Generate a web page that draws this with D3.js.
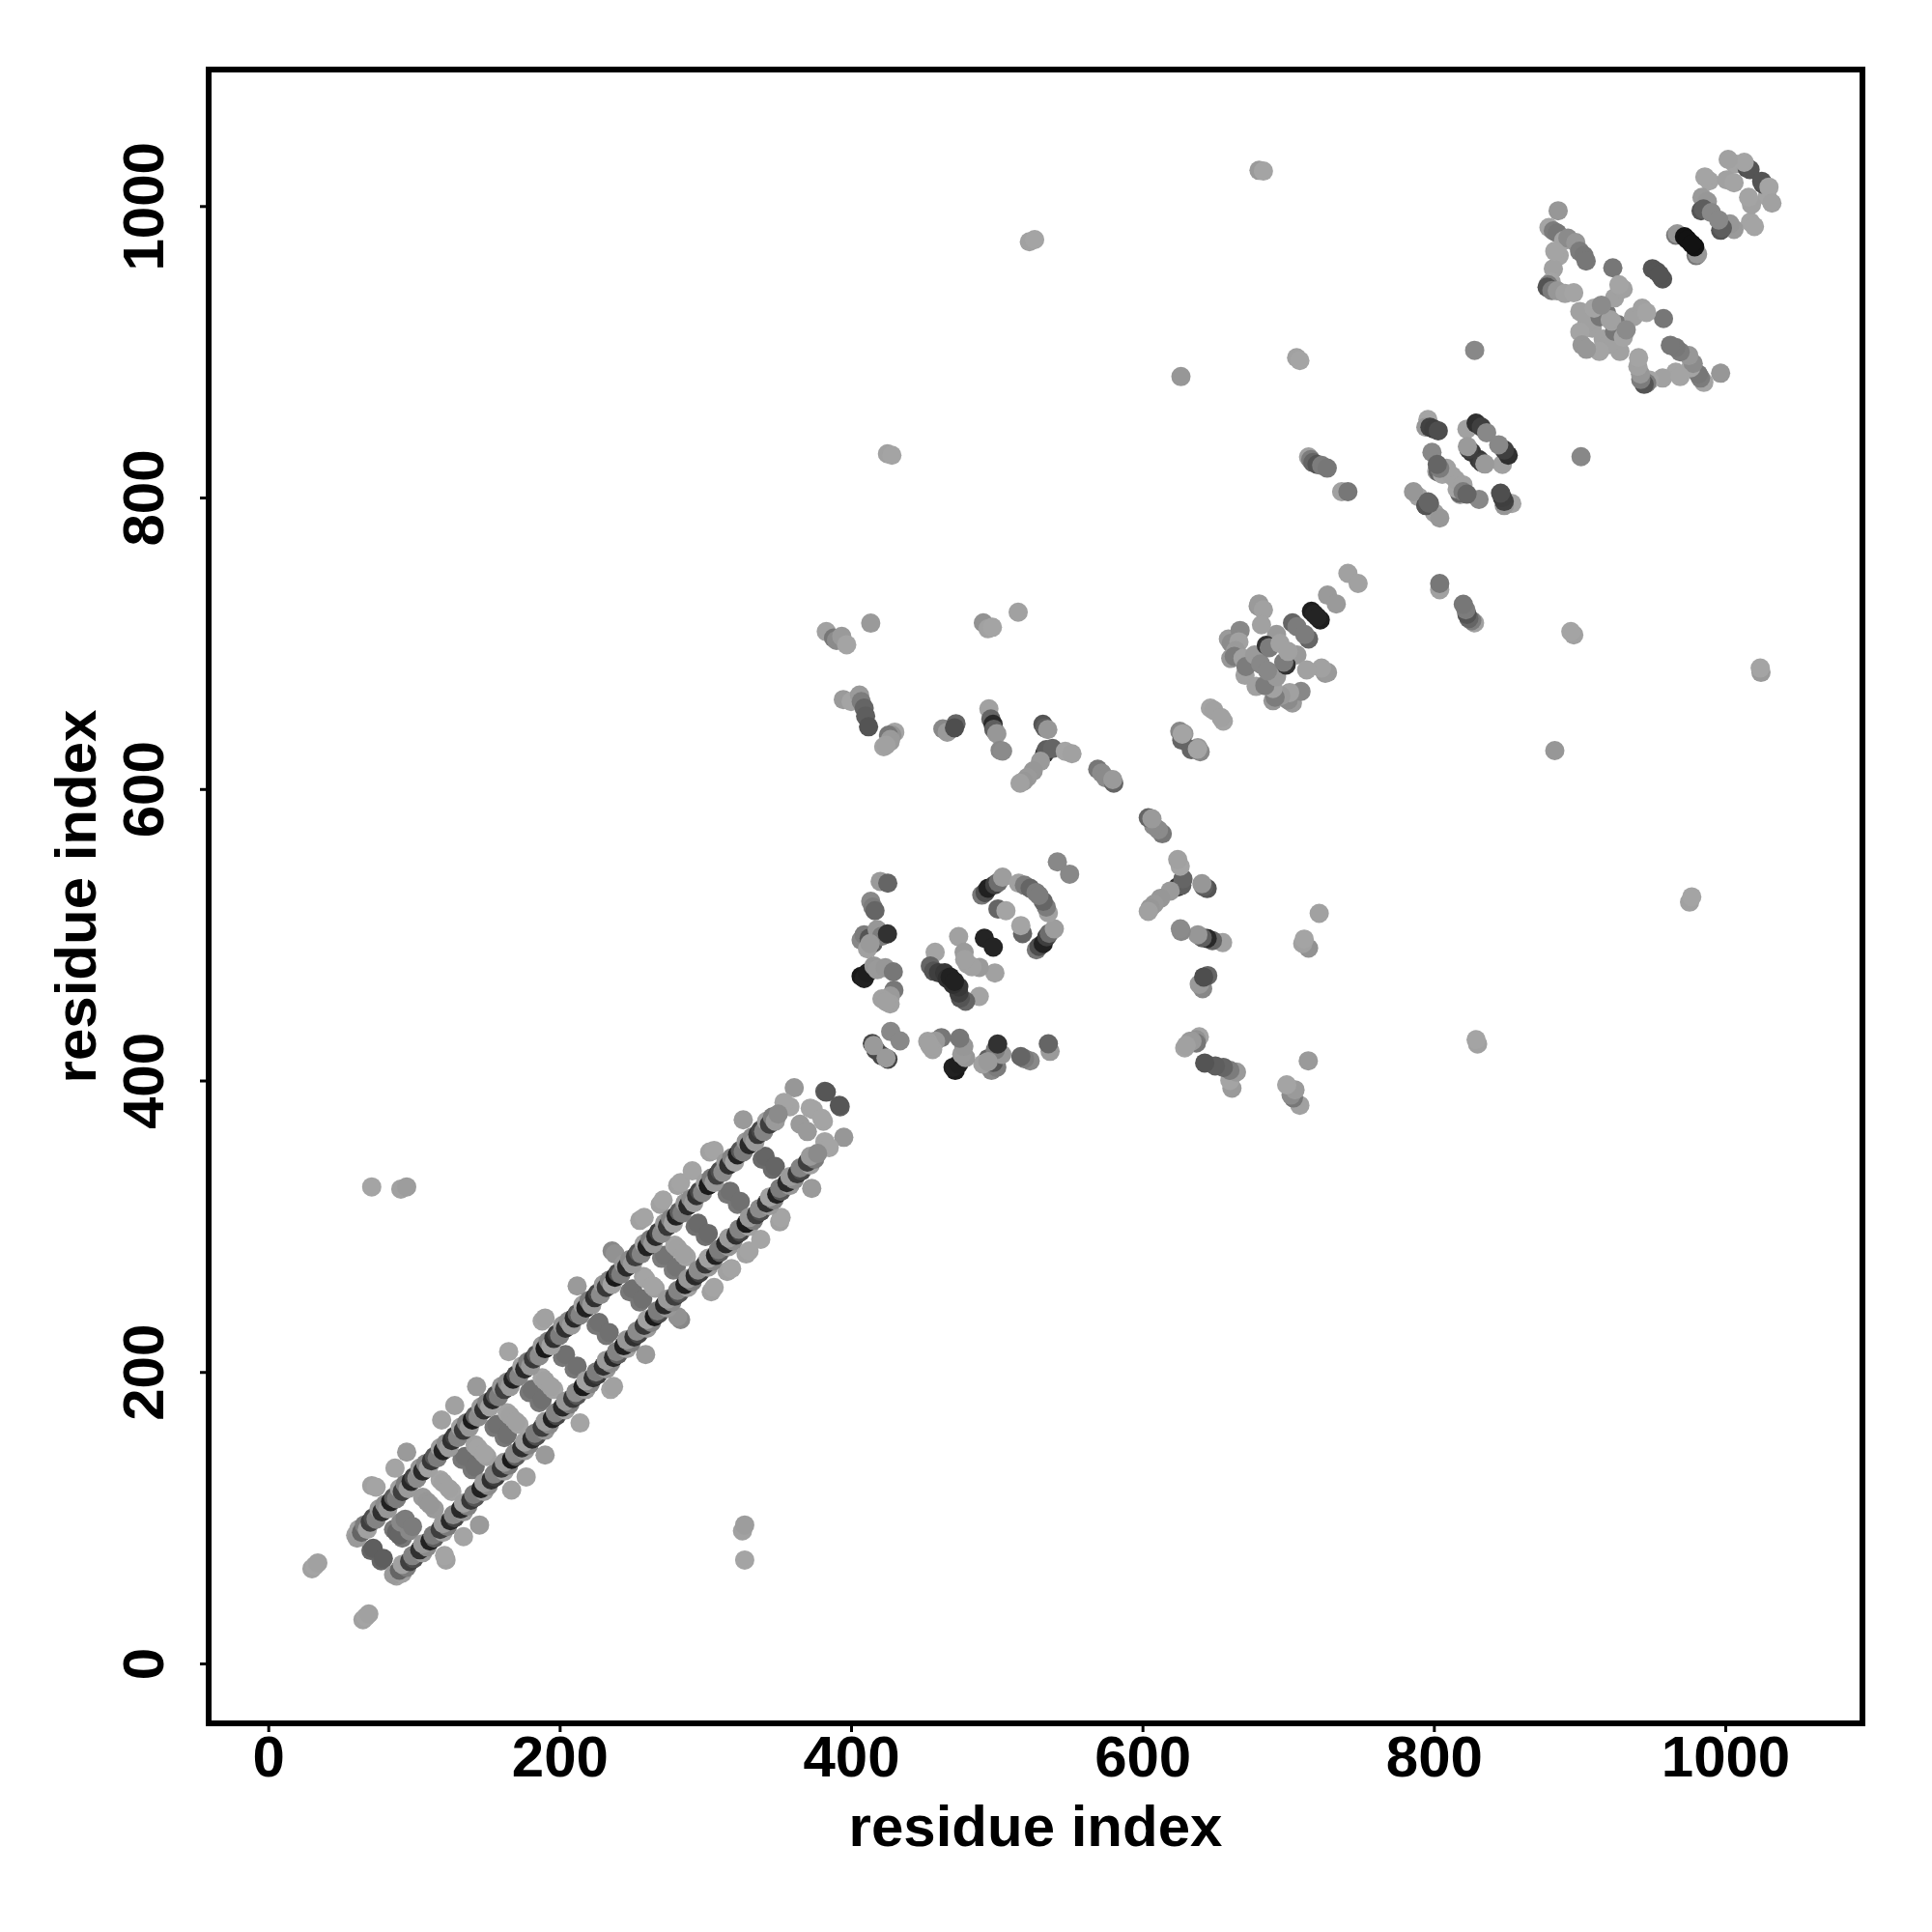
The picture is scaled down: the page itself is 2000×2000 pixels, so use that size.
<!DOCTYPE html>
<html><head><meta charset="utf-8">
<script src="https://cdn.jsdelivr.net/npm/d3@7/dist/d3.min.js"></script>
<style>html,body{margin:0;padding:0;background:#fff}svg{display:block}text{font-family:"Liberation Sans",Arial,sans-serif;font-weight:700;fill:#000}</style>
</head><body><svg id="c" width="2000" height="2000"></svg>
<script>
// Residue contact map: each contact [a, b, strength] is symmetric and shows at (a,b) and (b,a).
const tickValues = [0,200,400,600,800,1000];
const axisTitle = "residue index";

const strandA = [60,61,62,64,66,68,70,72,74,76,78,80,82,84,86,88,90,92,94,96,98,100,102,104,106,108,110,112,114,116,118,120,122,124,126,128,130,132,134,136,138,140,142,144,146,148,150,152,154,156,158,160,162,164,166,168,170,172,174,176,178,180,182,184,186,188,190,192,194,196,198,200,202,204,206,208,210,212,214,216,218,220,222,224,226,228,230,232,234,236,238,240,242,244,246,248,250,252,254,256,258,260,262,264,266,268,270,272,274,276,278,280,282,284,286,288,290,292,294,296,298,300,302,304,306,308,310,312,314,316,318,320,322,324,326,328,330,332,334,336,338,340,342,344,346,348,350];
const strandB = [88,86,92,90,95,92,97,100,99,106,104,109,106,111,114,113,120,118,123,120,125,128,127,134,132,137,134,139,142,141,148,146,151,148,153,156,155,162,160,165,162,167,170,169,176,174,179,176,181,184,183,190,188,193,190,195,198,197,204,202,207,204,209,212,211,218,216,221,218,223,226,225,232,230,235,232,237,240,239,246,244,249,246,251,254,253,260,258,263,260,265,268,267,274,272,277,274,279,282,281,288,286,291,288,293,296,295,302,300,305,302,307,310,309,316,314,319,316,321,324,323,330,328,333,330,335,338,337,344,342,347,344,349,352,351,358,356,361,358,363,366,365,372,370,375,372,377];
const strandS = [.05,.1,.05,.45,.3,.05,.7, .6,.25,.1,.8,.2,.12,.9, .5,.3,.05,.7,.3,.1,.85, .65,.2,.12,.85,.25,.05,.75, .55,.3,.08,.9,.2,.1,.8, .7,.25,.05,.75,.3,.12,.95, .5,.2,.1,.8,.25,.05,.85, .6,.3,.12,.7,.2,.1,.9, .65,.25,.05,.85,.3,.12,.75, .55,.2,.1,.95,.25,.05,.8, .7,.3,.12,.8,.2,.1,.85, .5,.25,.05,.9,.3,.12,.8, .65,.2,.1,.75,.25,.05,.95, .6,.3,.12,.85,.2,.1,.7, .55,.25,.05,.9,.3,.12,.85, .7,.2,.1,.75,.25,.05,.9, .5,.3,.12,.85,.2,.1,.8, .65,.25,.05,.95,.3,.12,.7, .6,.2,.1,.8,.25,.05,.9, .55,.3,.12,.85,.2,.1,.75, .65,.25,.05,.7,.3,.1,.2];

const rungs = [[70.5,77.5,.45],[72,79,.5],[86,92,.33],[88,90,.45],[91,97,.22],[94,99,.3],[106,114,.1],[109,111,.12],[118,126,.03],[120,124,.05],
[133,140,.33],[135,142,.38],[142,150,.05],[144,148,.03],[155,162,.33],[157,164,.38],[164,172,.03],[166,170,.05],[179,186,.33],[181,188,.38],
[188,196,.03],[190,194,.05],[202,210,.33],[204,212,.38],[225,232,.33],[227,234,.38],[248,255,.33],[250,257,.38],[257.5,265.5,.05],[259,264,.03],
[270,278,.3],[272,280,.35],[279,287,.03],[281,285,.05],[293,300,.38],[295,302,.42],[315,322,.33],[317,324,.38],[339,346,.42],[341,348,.45]];

const sideContacts = [[71,122,.05],[74,121,.03],[87,134,.03],[95,145,.1],[119,167,.05],[128,177,.05],[143,190,.1],[165,214,.03],[188,235,.03],[190,237,.05],
[212,259,.1],[236,283,.22],[238,281,.15],[255,304,.05],[258,306,.03],[269,315,.05],[271,318,.03],[281,328,.05],[283,330,.03],[291,338,.03],
[303,351,.05],[306,352,.03],[326,373,.1],[361,395,.12],[358,382,.03],[354,385,.03],[365,370,.1],[372,381,.03],[374,380,.03],[382,392.5,.5],[383,392,.55]];

const farContacts = [[30,65,.05],[32,67,.03],[34,69,.05],[71,327,.03],[91,325.5,.05],[95,327,.08],[425,830,.05],[428,829,.03],[522.4,975.5,.05],[526,977,.03],
[626.4,883,.12],[705.8,896,.05],[708,894,.03],[828,901,.22],[680,1024.5,.1],[683,1024,.03],[383,708,.05],[388,703.6,.33],[390,702,.2],[393.6,704.7,.1],
[397,699,.03],[413.5,713.8,.1],[490.8,714,.15],[494,710,.05],[497,711,.03],[514.7,721.3,.05]];

const row640 = [[394.7,661.4,.1],[400,660,.03],[405.8,664.5,.1],[407,660,.3],[409,655.5,.45],[410,650,.5],[412,642.7,.56],[430,639,.03],[428,637,.15],[425.7,637,.33],[427,634,.1],[426.8,632.5,.1],[422.4,629,.03],[424,630,.05],
[463,641.3,.22],[466,639,.1],[472,644.8,.45],[471,642,.6],[494.6,655,.05],[496,648,.45],[497.5,644.4,.85],[498,641,.5],[500,638,.12],[502.3,626.6,.22],[504,626,.2],
[531.7,644.4,.56],[533,642,.5],[535,640.8,.12],[532.8,624.2,.79],[534,627,.5],[538.3,627.8,.45],[547,625.9,.03],[551.6,624.2,.05],[530,619,.1],[525,612.4,.12],[521,608,.1],[518.4,605.3,.12],[516,604,.05],
[569.3,613.6,.33],[572,611,.2],[574.8,607.7,.2],[580.3,604,.45],[579.6,606.5,.1],[646.6,655.5,.03],[649,654,.05],[625.6,639.6,.22],[628.4,638,.1],[627,633.5,.45],[627.3,637.7,.03]];

const column420 = [[420,536.6,.1],[425.2,535.4,.45],[413.5,522.9,.22],[415,519,.3],[416.4,516.5,.45],[406.9,496.4,.22],[409,500,.3],[412.4,497.6,.56],[415,494,.5],[417.9,503.5,.12],[421,499,.3],[425,500.6,.79],[411.3,490.4,.05],[413,494,.1],
[406.9,471.5,.95],[409,470,.9],[411.3,473.9,.92],[415.7,478.6,.12],[418,476,.1],[423.5,477.4,.12],[429,474.6,.33],[429.4,462,.33],[427,458,.1],[421.2,456,.05],[426.8,452.6,.05],[424,454,.05],
[427.2,433.6,.22],[417,421,.65],[414.6,425.3,.65],[415.5,424,.1]];

const cluster480 = [[457.7,488,.03],[454.4,478.6,.45],[456.6,475,.56],[460,474,.7],[464.3,473.9,.75],[466,470,.8],[468,471,.9],[473.8,498.7,.05],[477.6,488,.1],[480,480,.05],[483,478,.05],[491.5,497.6,.88],
[489.7,527.2,.33],[492,529,.6],[494,531.9,.9],[498.6,534.3,.7],[501,536,.4],[504,539.5,.08],[500.8,517.7,.45],[506.3,516.5,.03],[515,535.4,.05],[519,534,.3],[522.9,531.9,.45],[527,529,.3],[541.6,550,.22]];

const cluster680 = [[659,702.9,.1],[661,700,.2],[667,708.8,.22],[666.2,701,.05],[664,695,.1],[660.6,689.6,.12],[663,691,.3],[669,689.6,.05],[670.4,678,.05],[671,684,.3],[677,692,.1],[692,706,.1],
[679.4,725.5,.12],[680,727,.1],[683,722.9,.05],[681.7,712.7,.05],[681.1,685.8,.22],[685,698.6,.79],[687,697,.3],[694.4,699.9,.05],[703,714,.45],[706,711.4,.3],[716,722,.92],[718,720,.88],[727,733,.1],[741,748,.05]];

const cluster820 = [[714,827.9,.05],[715.5,826,.3],[717,824,.45],[719.8,822.7,.56],[723,822,.3],[726.8,820.2,.33],[736.7,804,.05],[741,804,.33],
[795.9,853.5,.03],[794.5,848.3,.12],[797.3,848.3,.68],[800,847,.7],[803,845.8,.6],[798.7,831,.22],[822.7,847,.05],[829,851,.8],[832.6,848.4,.7],[836.2,844.5,.22],
[802,818,.03],[803,817.6,.45],[805.8,816,.03],[812.3,815,.05],[808.7,820,.05],[804,820,.3],[802.3,822.7,.45],[789.4,800.5,.05],[794.5,794.6,.56],[786,804,.12],[797,796,.45],[826,831,.75],[824,833,.7],[823,835,.1]];

const cluster930 = [[879,985.3,.03],[885.3,996.8,.12],[882,983,.3],[884.7,981.5,.33],[889,976.3,.03],[892,978,.2],[897.4,975,.12],[886,966,.03],[900,969,.3],[903,966,.33],[904.5,962.3,.33],[882,957,.05],[880.5,948,.03],[878.5,946,.3],[877.7,944.3,.56],[881,942,.3],[884.7,941.8,.12],[890,940,.05],[896,940.5,.03],[883,969,.03],
[900.2,927.7,.05],[908.7,916.2,.05],[905,920,.05],[900.2,913.6,.03],[901.7,904.7,.12],[914,924,.33],[918.6,926.4,.33],[922,921,.05],[924,937,.05],[922.8,957.6,.33],[929.9,943,.05],[927,946,.03],[950,957,.56],[953,955,.56],[910,930,.03],[915,932,.2],
[966,980,.33],[967,981,.12],[972,979,1],[974,977,1]];

const cluster1010 = [[1006.6,1028.8,.03],[1015,1026,.6],[1017,1025,.56],[1013,1030,.03],[1002,1032,.05],[989,1017.3,.03],[986,1020,.03],[1001,1018,.05],[1006,1016,.03],[984,1006,.1],[987.7,1003.2,.12],[983.4,996.8,.56],[985,998,.5],[990.5,995.5,.22]];

const svg = d3.select("#c");
const x = d3.scaleLinear().domain([0,1000]).range([277.7,1786]);
const y = d3.scaleLinear().domain([0,1000]).range([1722,213.3]);
const gray = d3.scaleLinear().domain([0,1]).range(["#a9a9a9","#121212"]);

const strand = strandA.map((a,k)=>[a,strandB[k],strandS[k]]);
const contacts = [...farContacts,...row640,...column420,...cluster480,...cluster680,...cluster820,...cluster930,...cluster1010,...rungs,...sideContacts,...strand];
const marks = contacts.flatMap(([a,b,s])=>[{x:a,y:b,s},{x:b,y:a,s}]);

svg.append("g").selectAll("circle").data(marks).join("circle")
  .attr("cx",d=>x(d.x)).attr("cy",d=>y(d.y)).attr("r",10).attr("fill",d=>gray(d.s));

svg.append("rect").attr("x",216).attr("y",72).attr("width",1712).attr("height",1712)
  .attr("fill","none").attr("stroke","#000").attr("stroke-width",6);

const xAxis = d3.axisBottom(x).tickValues(tickValues).tickSize(9).tickFormat(d3.format("d"));
const gx = svg.append("g").attr("transform","translate(0,1784)").call(xAxis);
gx.select(".domain").remove();
gx.selectAll("line").attr("stroke","#000").attr("stroke-width",3);
gx.selectAll("text").attr("font-size",60).attr("y",55).attr("dy",0).attr("x",0).style("font-family",'"Liberation Sans"').style("font-weight",700);

const yAxis = d3.axisLeft(y).tickValues(tickValues).tickSize(9).tickFormat(d3.format("d"));
const gy = svg.append("g").attr("transform","translate(216,0)").call(yAxis);
gy.select(".domain").remove();
gy.selectAll("line").attr("stroke","#000").attr("stroke-width",3);
gy.selectAll("text").attr("font-size",60).attr("dy",0).attr("x",0).attr("y",0)
  .attr("text-anchor","middle").attr("transform","translate(-47,0) rotate(-90)")
  .style("font-family",'"Liberation Sans"').style("font-weight",700);

svg.append("text").attr("x",1072).attr("y",1911).attr("text-anchor","middle").attr("font-size",60).text(axisTitle);
svg.append("text").attr("transform","translate(99,928) rotate(-90)").attr("text-anchor","middle").attr("font-size",60).text(axisTitle);
</script></body></html>
